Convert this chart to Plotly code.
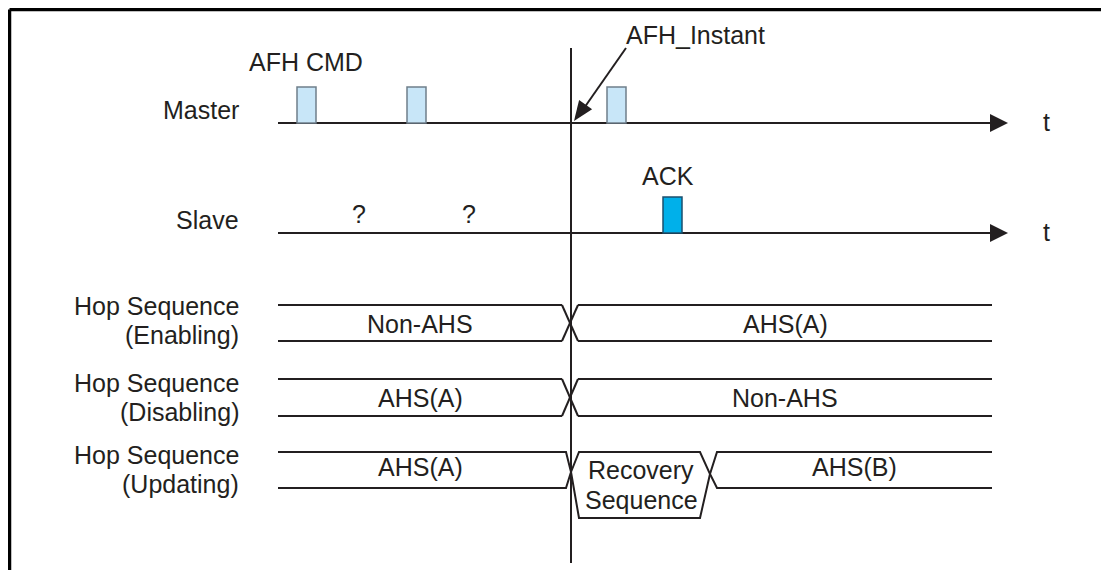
import plotly.graph_objects as go
import math

# ---------------- data ----------------
signal_labels = ["Master", "Slave"]
master_pulse_t = [297, 407, 607]      # start times of AFH CMD packets
ack_pulse_t = [663]                   # slave ACK packet
unknown_t = [359, 469]                # slave responses unknown ("?")
unknown_labels = ["?", "?"]
pulse_len = 19
afh_instant_t = 570
time_start = 278
time_end = 1008
bus_end = 992

bus_titles = [["Hop Sequence", "(Enabling)"],
              ["Hop Sequence", "(Disabling)"],
              ["Hop Sequence", "(Updating)"]]
bus_before = ["Non-AHS", "AHS(A)", "AHS(A)"]
bus_after = ["AHS(A)", "Non-AHS", "AHS(B)"]
recovery_label = ["Recovery", "Sequence"]
recovery_end_t = 710

# ---------------- layout constants ----------------
W, H = 1109, 570
OFF = 8   # default page body margin
FONT = "Liberation Sans, Arial, sans-serif"
FS = 25
INK = "#231f20"
sig_y = [123, 233]
pulse_h = 36
bus_top = [305, 379, 452]
bus_bot = [341, 416, 488]
cross = 8
label_x = 241

fig = go.Figure()
shapes = []
ann = []

def line(x0, y0, x1, y1, w=2, color=INK):
    shapes.append(dict(type="line", xref="x", yref="y", x0=x0, y0=y0, x1=x1, y1=y1,
                       line=dict(color=color, width=w)))

def path(pts, fill=INK, lw=0, lc=INK, closed=True):
    d = "M " + " L ".join(f"{x},{y}" for x, y in pts) + (" Z" if closed else "")
    shapes.append(dict(type="path", xref="x", yref="y", path=d, fillcolor=fill,
                       line=dict(color=lc, width=lw)))

def text(x, y, s, xanchor="center", size=FS):
    ann.append(dict(x=x, y=y, xref="x", yref="y", text=s, showarrow=False,
                    xanchor=xanchor, yanchor="middle",
                    font=dict(family=FONT, size=size, color=INK)))

# frame (cropped)
line(9.5, 9.5, W + 5, 9.5, w=3.5, color="#000")
line(9.5, 9.5, 9.5, H + 5, w=3.5, color="#000")

# signal time axes
for i, lab in enumerate(signal_labels):
    y = sig_y[i]
    line(time_start, y, time_end - 18, y, w=2)
    path([(time_end - 18, y - 9), (time_end, y), (time_end - 18, y + 9)])
    text(label_x, y - 13, lab, xanchor="right")
    text(1046, y - 1, "t")

# master pulses
for t in master_pulse_t:
    shapes.append(dict(type="rect", xref="x", yref="y", x0=t, x1=t + pulse_len,
                       y0=sig_y[0] - pulse_h, y1=sig_y[0], fillcolor="#c8e6f8",
                       line=dict(color="#6f7f8a", width=1.5)))
text(master_pulse_t[0] + pulse_len / 2 - 1, 62, "AFH CMD")

# ack pulse
for t in ack_pulse_t:
    shapes.append(dict(type="rect", xref="x", yref="y", x0=t, x1=t + pulse_len,
                       y0=sig_y[1] - pulse_h, y1=sig_y[1], fillcolor="#00b0ea",
                       line=dict(color="#1b4f6e", width=1.5)))
    text(t + pulse_len / 2 - 5, 176, "ACK")

for t, s in zip(unknown_t, unknown_labels):
    text(t, 214, s)

# AFH instant vertical line
line(afh_instant_t + 1, 48, afh_instant_t + 1, 563, w=2)
# AFH_Instant annotation arrow
tip = (afh_instant_t + 4, 121)
start = (626, 48)
line(start[0], start[1], tip[0] + 8, tip[1] - 10, w=2)
ang = math.atan2(tip[1] - start[1], tip[0] - start[0])
L, Wd = 20, 8
bx, by = tip[0] - L * math.cos(ang), tip[1] - L * math.sin(ang)
px, py = -math.sin(ang), math.cos(ang)
path([tip, (bx + Wd * px, by + Wd * py), (bx - Wd * px, by - Wd * py)])
text(695, 35, "AFH_Instant")

# bus rows
for i in range(3):
    top, bot = bus_top[i], bus_bot[i]
    mid = (top + bot) / 2
    x0 = afh_instant_t
    for j, s in enumerate(bus_titles[i]):
        text(label_x, [306, 383, 455][i] + j * 29, s, xanchor="right")
    if i < 2:
        line(time_start, top, x0 - cross, top)
        line(time_start, bot, x0 - cross, bot)
        line(x0 - cross, top, x0 + cross, bot)
        line(x0 - cross, bot, x0 + cross, top)
        line(x0 + cross, top, bus_end, top)
        line(x0 + cross, bot, bus_end, bot)
        text(420, mid + 0.5, bus_before[i])
        text(785, mid + 0.5, bus_after[i])
    else:
        vy = 472
        path([(time_start, top), (x0 - 4, top), (x0 + 1, vy), (x0 - 4, bot), (time_start, bot)],
             fill="rgba(0,0,0,0)", lw=2, closed=False)
        rb = 518
        path([(x0 + 9, top), (recovery_end_t - 10, top), (recovery_end_t, vy + 2),
              (recovery_end_t - 10, rb), (x0 + 9, rb), (x0 + 1, vy)],
             fill="rgba(0,0,0,0)", lw=2, closed=True)
        path([(bus_end, top), (recovery_end_t + 7, top), (recovery_end_t, vy + 2),
              (recovery_end_t + 7, bot), (bus_end, bot)],
             fill="rgba(0,0,0,0)", lw=2, closed=False)
        text(420, 467, bus_before[i])
        text(854, 467, bus_after[i])
        text(641, 470, recovery_label[0])
        text(641, 500, recovery_label[1])

fig.update_layout(
    width=W - OFF, height=H - OFF, margin=dict(l=0, r=0, t=0, b=0),
    paper_bgcolor="white", plot_bgcolor="white",
    xaxis=dict(range=[OFF, W], visible=False, fixedrange=True),
    yaxis=dict(range=[H, OFF], visible=False, fixedrange=True),
    shapes=shapes, annotations=ann, showlegend=False,
)
fig.write_html("out.html", config={"displayModeBar": False})
